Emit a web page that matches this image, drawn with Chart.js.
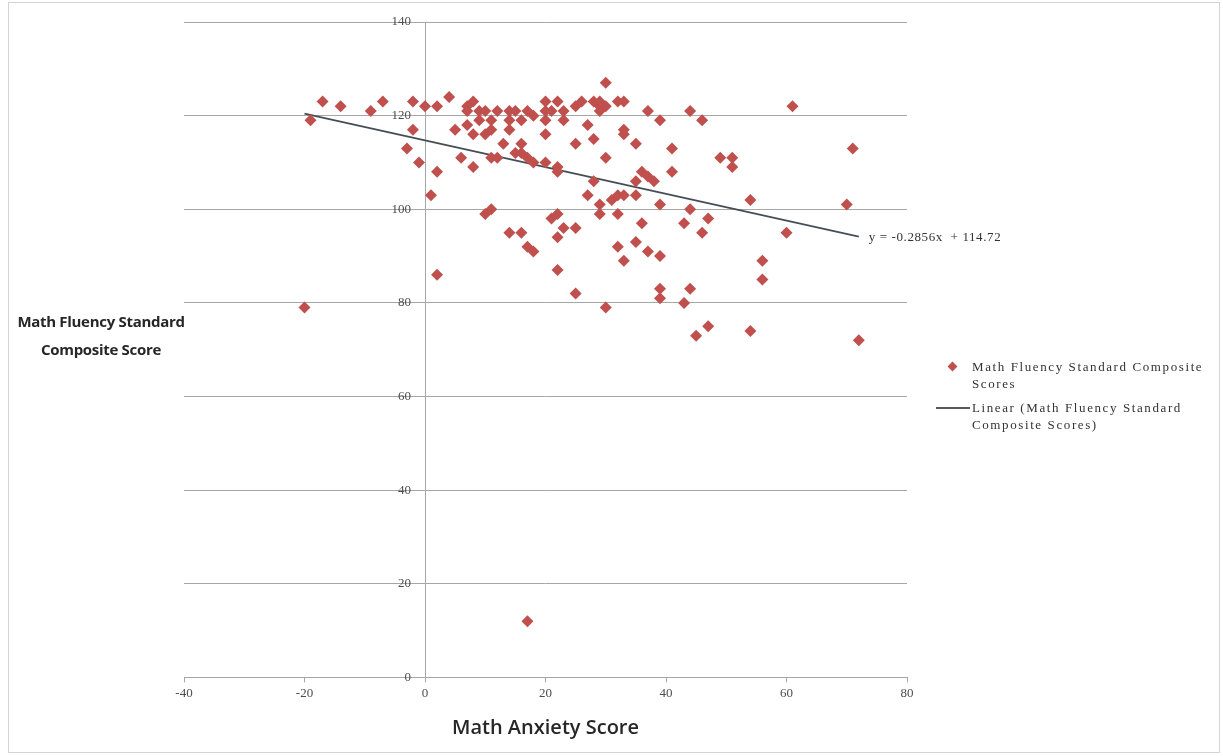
<!DOCTYPE html>
<html>
<head>
<meta charset="utf-8">
<script src="https://cdn.jsdelivr.net/npm/chart.js@4.4.1/dist/chart.umd.min.js"></script>
<style>
  html, body { margin: 0; padding: 0; background: #fff; }
  #wrap { position: relative; width: 1223px; height: 756px; overflow: hidden; }
  #frame { position: absolute; left: 8px; top: 2px; width: 1212px; height: 751px; border: 1px solid #d4d4d4; box-sizing: border-box; pointer-events: none; }
  canvas { position: absolute; left: 0; top: 0; }
  #ytitle { position: absolute; left: 6px; top: 307px; width: 190px; text-align: center;
    font-family: "Open Sans", sans-serif; font-weight: 700; font-size: 15px; line-height: 28px; color: #262626; letter-spacing: -0.3px; }
  #legend { position: absolute; left: 934px; top: 358px; font-family: "Liberation Serif", serif; font-size: 13px; letter-spacing: 1.6px; color: #333; line-height: 17px; }
  .li { position: relative; padding-left: 38px; margin-bottom: 7px; width: 250px; white-space: nowrap; }
  .dia { position: absolute; left: 15px; top: 5px; width: 7px; height: 7px; background: #c0504d; transform: rotate(45deg); }
  .ln { position: absolute; left: 2px; top: 8px; width: 34px; height: 2px; background: #5a5a5a; }
</style>
</head>
<body>
<div id="wrap">
  <canvas id="c" width="1223" height="756"></canvas>
  <div id="frame"></div>
  <div id="ytitle">Math Fluency Standard<br>Composite Score</div>
  <div id="legend">
    <div class="li"><span class="dia"></span>Math Fluency Standard Composite<br>Scores</div>
    <div class="li"><span class="ln"></span>Linear (Math Fluency Standard<br>Composite Scores)</div>
  </div>
</div>
<script>
// Math Anxiety Score (x) and Math Fluency Standard Composite Score (y)
const anxietyScores = [
  -20, -19, -17, -14, -9, -7, -3, -2, -2, -1, 0, 1, 2, 2, 2, 4,
  5, 6, 7, 7, 7, 8, 8, 8, 9, 9, 10, 10, 10, 11, 11, 11, 11, 12, 12, 13, 14, 14, 14, 14,
  15, 15, 16, 16, 16, 16, 17, 17, 17, 17, 18, 18, 18, 20, 20, 20, 20, 20, 21, 21,
  22, 22, 22, 22, 22, 22, 23, 23, 23, 25, 25, 25, 25, 26, 27, 27, 28, 28, 28, 29,
  29, 29, 29, 29, 30, 30, 30, 30, 31, 32, 32, 32, 32, 33, 33, 33, 33, 33, 35, 35,
  35, 35, 36, 36, 37, 37, 37, 38, 39, 39, 39, 39, 39, 41, 41, 43, 43, 44, 44, 44,
  45, 46, 46, 47, 47, 49, 51, 51, 54, 54, 56, 56, 60, 61, 70, 71, 72
];
const fluencyScores = [
  79, 119, 123, 122, 121, 123, 113, 123, 117, 110, 122, 103, 122, 108, 86, 124,
  117, 111, 122, 121, 118, 123, 116, 109, 121, 119, 121, 116, 99, 100, 117, 119, 111, 111, 121, 114, 117, 119, 121, 95,
  121, 112, 119, 114, 112, 95, 121, 111, 92, 12, 120, 110, 91, 123, 121, 119, 116, 110, 121, 98,
  123, 109, 108, 99, 94, 87, 121, 119, 96, 122, 114, 96, 82, 123, 118, 103, 123, 115, 106, 123,
  122, 121, 101, 99, 127, 122, 111, 79, 102, 123, 103, 99, 92, 123, 117, 116, 103, 89, 114, 106,
  103, 93, 108, 97, 121, 107, 91, 106, 119, 101, 90, 83, 81, 113, 108, 97, 80, 121, 100, 83,
  73, 119, 95, 98, 75, 111, 111, 109, 102, 74, 89, 85, 95, 122, 101, 113, 72
];
// Excel linear trendline: y = -0.2856x + 114.72
const trendSlope = -0.2856;
const trendIntercept = 114.72;
const xTicks = [-40, -20, 0, 20, 40, 60, 80];
const yTicks = [0, 20, 40, 60, 80, 100, 120, 140];

const points = anxietyScores.map((x, i) => ({ x: x, y: fluencyScores[i] }));
const xMinData = Math.min(...anxietyScores), xMaxData = Math.max(...anxietyScores);
const trendPoints = [xMinData, xMaxData].map(x => ({ x: x, y: trendSlope * x + trendIntercept }));

// Shift the y tick labels (axis crossing at x = 0) a little to the left of the axis line
const yLabelGap = {
  id: 'yLabelGap',
  beforeDraw(chart) {
    const ys = chart.scales.y;
    const items = ys.getLabelItems(chart.chartArea);
    if (items && !items._shifted) {
      items.forEach(it => { it.options.translation[0] -= 14; });
      items._shifted = true;
    }
  }
};

const eqLabel = {
  id: 'eqLabel',
  afterDatasetsDraw(chart) {
    const xs = chart.scales.x, ys = chart.scales.y;
    const px = xs.getPixelForValue(xMaxData) + 10;
    const py = ys.getPixelForValue(trendSlope * xMaxData + trendIntercept) + 1;
    const ctx = chart.ctx;
    ctx.save();
    ctx.font = '13px "Liberation Serif", serif';
    if ('letterSpacing' in ctx) ctx.letterSpacing = '0.6px';
    ctx.fillStyle = '#333';
    ctx.textBaseline = 'middle';
    ctx.textAlign = 'left';
    ctx.fillText('y = -0.2856x  + 114.72', px, py);
    ctx.restore();
  }
};

new Chart(document.getElementById('c'), {
  type: 'scatter',
  data: {
    datasets: [
      {
        label: 'Math Fluency Standard Composite Scores',
        data: points,
        pointStyle: 'rectRot',
        pointRadius: 6,
        pointHoverRadius: 6,
        backgroundColor: '#c0504d',
        borderColor: '#c0504d',
        borderWidth: 0
      },
      {
        type: 'line',
        label: 'Linear (Math Fluency Standard Composite Scores)',
        data: trendPoints,
        borderColor: '#454d55',
        borderWidth: 1.6,
        pointRadius: 0,
        fill: false
      }
    ]
  },
  options: {
    responsive: false,
    animation: false,
    layout: { padding: { left: 184, right: 316, top: 22, bottom: 16 } },
    plugins: { legend: { display: false }, tooltip: { enabled: false } },
    scales: {
      x: {
        type: 'linear',
        position: 'bottom',
        min: -40, max: 80,
        afterBuildTicks: s => { s.ticks = xTicks.map(v => ({ value: v })); },
        grid: { drawOnChartArea: false, drawTicks: true, tickLength: 5, color: '#a6a6a6' },
        border: { display: true, color: '#a6a6a6', width: 1 },
        ticks: { font: { family: '"Liberation Serif", serif', size: 13 }, color: '#4d4d4d', padding: 3, maxRotation: 0 },
        title: { display: true, text: 'Math Anxiety Score', color: '#262626',
          font: { family: '"Open Sans", sans-serif', size: 20, weight: '600' }, padding: { top: 12, bottom: 0 } }
      },
      y: {
        type: 'linear',
        position: { x: 0 },
        min: 0, max: 140,
        afterBuildTicks: s => { s.ticks = yTicks.map(v => ({ value: v })); },
        grid: { drawOnChartArea: true, drawTicks: false, color: '#a6a6a6' },
        border: { display: true, color: '#a6a6a6', width: 1 },
        ticks: { font: { family: '"Liberation Serif", serif', size: 13 }, color: '#4d4d4d', padding: 0 }
      }
    }
  },
  plugins: [yLabelGap, eqLabel]
});
</script>
</body>
</html>
